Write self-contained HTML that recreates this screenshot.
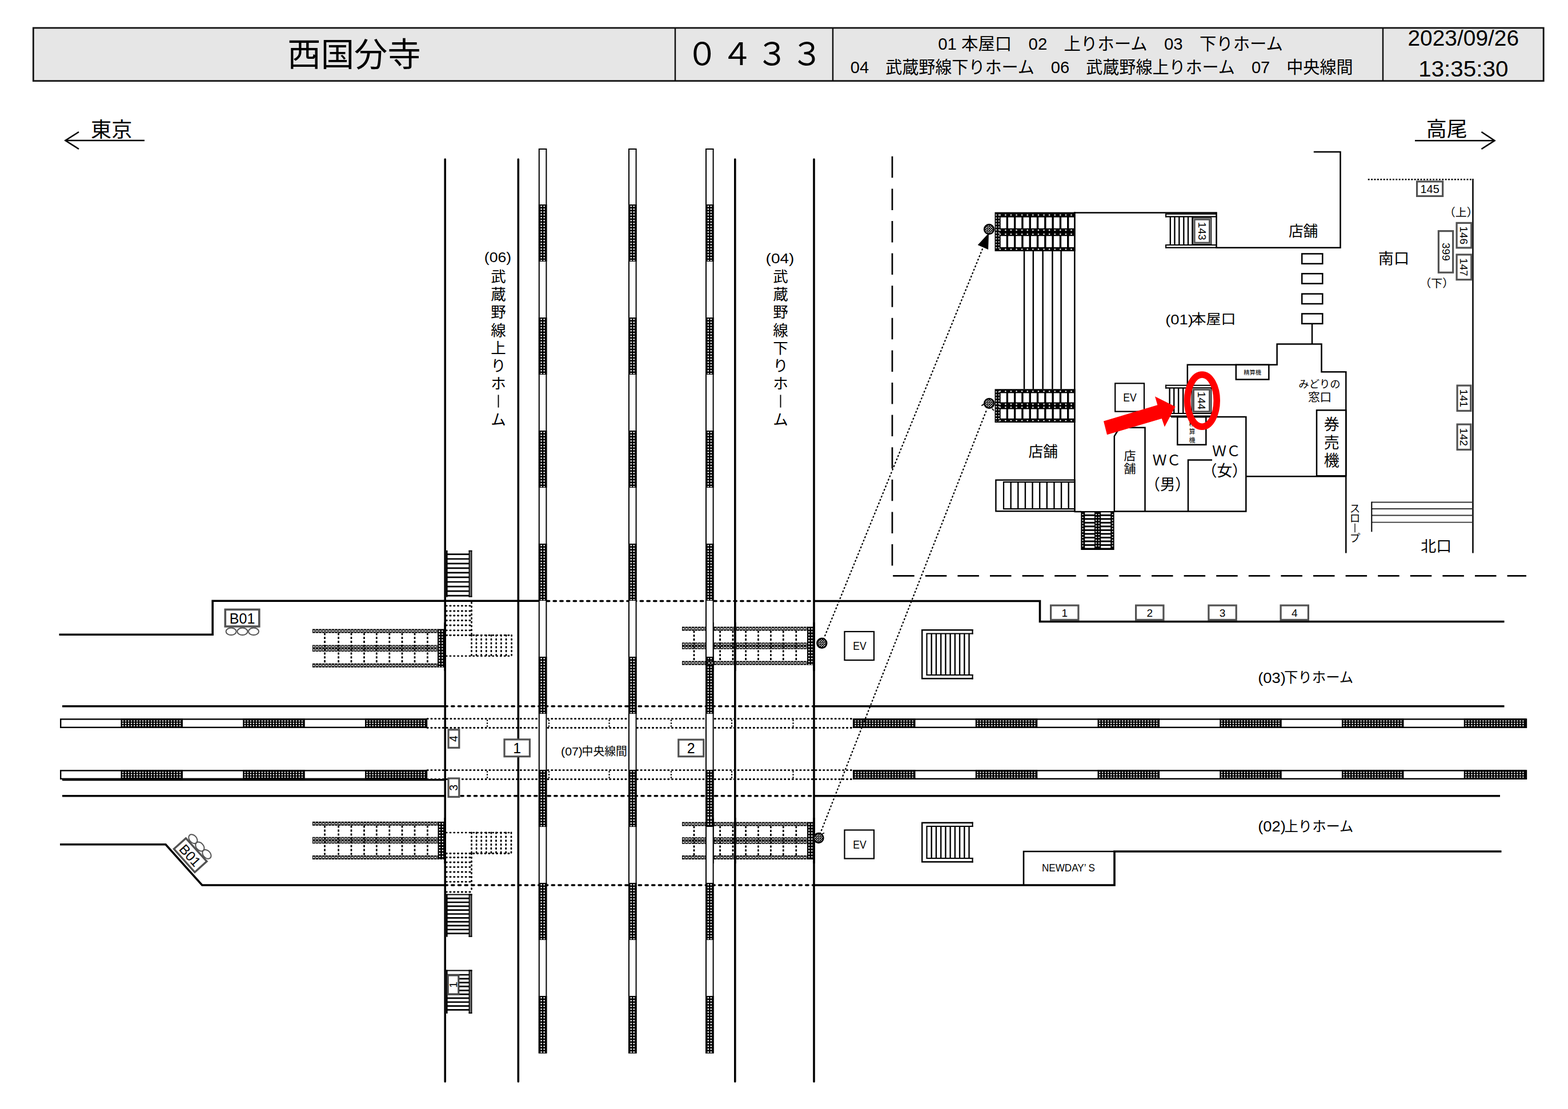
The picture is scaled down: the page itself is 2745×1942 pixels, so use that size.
<!DOCTYPE html>
<html lang="ja"><head><meta charset="utf-8"><title>西国分寺 0433</title>
<style>html,body{margin:0;padding:0;background:#fff;font-family:"Liberation Sans","Noto Sans CJK JP",sans-serif}svg{display:block}</style>
</head><body>
<svg width="2745" height="1942" viewBox="0 0 2745 1942" font-family="'Liberation Sans', 'Noto Sans CJK JP', sans-serif">
<defs>

<pattern id="xh" width="4" height="4" patternUnits="userSpaceOnUse"><rect width="4" height="4" fill="#fff"/><path d="M-1 -1 L5 5 M5 -1 L-1 5" stroke="#000" stroke-width="1.25"/></pattern>
<pattern id="dotv" width="5" height="5" patternUnits="userSpaceOnUse"><rect width="5" height="5" fill="#000"/><rect x="1.4" y="1.4" width="2.2" height="2.2" fill="#fff"/></pattern>

</defs>
<rect width="2745" height="1942" fill="#fff"/>
<rect x="58.3" y="48.9" width="2643.9" height="92.8" fill="#e6e6e6" stroke="#111" stroke-width="2.8"/>
<line x1="1182" y1="48.9" x2="1182" y2="141.7" stroke="#111" stroke-width="2.5"/>
<line x1="1458" y1="48.9" x2="1458" y2="141.7" stroke="#111" stroke-width="2.5"/>
<line x1="2421" y1="48.9" x2="2421" y2="141.7" stroke="#111" stroke-width="2.5"/>
<text x="503.25" y="115.72" font-size="58" fill="#000" textLength="233.7" lengthAdjust="spacingAndGlyphs">西国分寺</text>
<text x="1201.85" y="114.37" font-size="55" fill="#000" textLength="238.5" lengthAdjust="spacing">０４３３</text>
<text x="1642.25" y="87.43" font-size="29.5" fill="#000" textLength="603.7" lengthAdjust="spacingAndGlyphs">01 本屋口　02　上りホーム　03　下りホーム</text>
<text x="1488.75" y="127.57" font-size="29.3" fill="#000" textLength="879.8" lengthAdjust="spacingAndGlyphs">04　武蔵野線下りホーム　06　武蔵野線上りホーム　07　中央線間</text>
<text x="2464.45" y="80.21" font-size="39" fill="#000" textLength="194.7" lengthAdjust="spacingAndGlyphs">2023/09/26</text>
<text x="2483.18" y="134.41" font-size="39" fill="#000" textLength="157.3" lengthAdjust="spacingAndGlyphs">13:35:30</text>
<text x="159.14" y="239.52" font-size="36" fill="#000" textLength="72.4" lengthAdjust="spacingAndGlyphs">東京</text>
<line x1="114" y1="246" x2="253" y2="246" stroke="#000" stroke-width="2.6"/>
<path d="M138 231 L114.5 246 L138 261" fill="none" stroke="#000" stroke-width="2.6" stroke-linejoin="miter"/>
<text x="2496.79" y="239.02" font-size="36" fill="#000" textLength="72" lengthAdjust="spacingAndGlyphs">高尾</text>
<line x1="2477" y1="246.25" x2="2617" y2="246.25" stroke="#000" stroke-width="2.6"/>
<path d="M2593.5 231 L2616.5 246.25 L2593.5 261" fill="none" stroke="#000" stroke-width="2.6" stroke-linejoin="miter"/>
<path d="M103.5 1111.2 L372.2 1111.2 L372.2 1052.2 L943 1052.2" fill="none" stroke="#000" stroke-width="3.6" stroke-linejoin="miter"/>
<line x1="957.5" y1="1052.5" x2="1425" y2="1052.5" stroke="#000" stroke-width="3.6" stroke-dasharray="4.2 7.5" stroke-linecap="round"/>
<path d="M1425 1052.5 L1820.5 1052.5 L1820.5 1088.5 L2633.5 1088.5" fill="none" stroke="#000" stroke-width="3.6" stroke-linejoin="miter"/>
<line x1="109" y1="1236.8" x2="779" y2="1236.8" stroke="#000" stroke-width="3.6"/>
<line x1="779" y1="1236.8" x2="1425" y2="1236.8" stroke="#000" stroke-width="3.6" stroke-dasharray="4.2 7.5" stroke-linecap="round"/>
<line x1="1425" y1="1236.8" x2="2633.5" y2="1236.8" stroke="#000" stroke-width="3.6"/>
<line x1="109" y1="1365.6" x2="779" y2="1365.6" stroke="#000" stroke-width="3.2"/>
<line x1="109" y1="1393.7" x2="779" y2="1393.7" stroke="#000" stroke-width="3.6"/>
<line x1="807" y1="1393.7" x2="1425" y2="1393.7" stroke="#000" stroke-width="3.6" stroke-dasharray="4.2 7.5" stroke-linecap="round"/>
<line x1="1425" y1="1393.7" x2="2626" y2="1393.7" stroke="#000" stroke-width="3.6"/>
<path d="M105 1478.8 L290 1478.8 L353.8 1550 L779 1550" fill="none" stroke="#000" stroke-width="3.6" stroke-linejoin="miter"/>
<line x1="779" y1="1550" x2="1425" y2="1550" stroke="#000" stroke-width="3.6" stroke-dasharray="4.2 7.5" stroke-linecap="round"/>
<path d="M1425 1550 L1951 1550 L1951 1491 L2628.5 1491" fill="none" stroke="#000" stroke-width="3.6" stroke-linejoin="miter"/>
<path d="M1792 1550 L1792 1491 L1951 1491" fill="none" stroke="#000" stroke-width="2.6" stroke-linejoin="miter"/>
<rect x="106.2" y="1259.4" width="640.8" height="14.4" fill="#fff" stroke="#000" stroke-width="2.4"/>
<rect x="1494.2" y="1259.4" width="1177.8" height="14.4" fill="#fff" stroke="#000" stroke-width="2.4"/>
<rect x="211.5" y="1258.2" width="108.5" height="16.8" fill="#000"/>
<line x1="214" y1="1262.5" x2="319" y2="1262.5" stroke="#fff" stroke-width="2.1" stroke-dasharray="2.3 2.7"/>
<line x1="214" y1="1266.6" x2="319" y2="1266.6" stroke="#fff" stroke-width="2.1" stroke-dasharray="2.3 2.7"/>
<line x1="214" y1="1270.7" x2="319" y2="1270.7" stroke="#fff" stroke-width="2.1" stroke-dasharray="2.3 2.7"/>
<rect x="425.25" y="1258.2" width="108.5" height="16.8" fill="#000"/>
<line x1="427.75" y1="1262.5" x2="532.75" y2="1262.5" stroke="#fff" stroke-width="2.1" stroke-dasharray="2.3 2.7"/>
<line x1="427.75" y1="1266.6" x2="532.75" y2="1266.6" stroke="#fff" stroke-width="2.1" stroke-dasharray="2.3 2.7"/>
<line x1="427.75" y1="1270.7" x2="532.75" y2="1270.7" stroke="#fff" stroke-width="2.1" stroke-dasharray="2.3 2.7"/>
<rect x="639" y="1258.2" width="108.5" height="16.8" fill="#000"/>
<line x1="641.5" y1="1262.5" x2="746.5" y2="1262.5" stroke="#fff" stroke-width="2.1" stroke-dasharray="2.3 2.7"/>
<line x1="641.5" y1="1266.6" x2="746.5" y2="1266.6" stroke="#fff" stroke-width="2.1" stroke-dasharray="2.3 2.7"/>
<line x1="641.5" y1="1270.7" x2="746.5" y2="1270.7" stroke="#fff" stroke-width="2.1" stroke-dasharray="2.3 2.7"/>
<rect x="1494" y="1258.2" width="108.5" height="16.8" fill="#000"/>
<line x1="1496.5" y1="1262.5" x2="1601.5" y2="1262.5" stroke="#fff" stroke-width="2.1" stroke-dasharray="2.3 2.7"/>
<line x1="1496.5" y1="1266.6" x2="1601.5" y2="1266.6" stroke="#fff" stroke-width="2.1" stroke-dasharray="2.3 2.7"/>
<line x1="1496.5" y1="1270.7" x2="1601.5" y2="1270.7" stroke="#fff" stroke-width="2.1" stroke-dasharray="2.3 2.7"/>
<rect x="1707.75" y="1258.2" width="108.5" height="16.8" fill="#000"/>
<line x1="1710.25" y1="1262.5" x2="1815.25" y2="1262.5" stroke="#fff" stroke-width="2.1" stroke-dasharray="2.3 2.7"/>
<line x1="1710.25" y1="1266.6" x2="1815.25" y2="1266.6" stroke="#fff" stroke-width="2.1" stroke-dasharray="2.3 2.7"/>
<line x1="1710.25" y1="1270.7" x2="1815.25" y2="1270.7" stroke="#fff" stroke-width="2.1" stroke-dasharray="2.3 2.7"/>
<rect x="1921.5" y="1258.2" width="108.5" height="16.8" fill="#000"/>
<line x1="1924" y1="1262.5" x2="2029" y2="1262.5" stroke="#fff" stroke-width="2.1" stroke-dasharray="2.3 2.7"/>
<line x1="1924" y1="1266.6" x2="2029" y2="1266.6" stroke="#fff" stroke-width="2.1" stroke-dasharray="2.3 2.7"/>
<line x1="1924" y1="1270.7" x2="2029" y2="1270.7" stroke="#fff" stroke-width="2.1" stroke-dasharray="2.3 2.7"/>
<rect x="2135.25" y="1258.2" width="108.5" height="16.8" fill="#000"/>
<line x1="2137.75" y1="1262.5" x2="2242.75" y2="1262.5" stroke="#fff" stroke-width="2.1" stroke-dasharray="2.3 2.7"/>
<line x1="2137.75" y1="1266.6" x2="2242.75" y2="1266.6" stroke="#fff" stroke-width="2.1" stroke-dasharray="2.3 2.7"/>
<line x1="2137.75" y1="1270.7" x2="2242.75" y2="1270.7" stroke="#fff" stroke-width="2.1" stroke-dasharray="2.3 2.7"/>
<rect x="2349" y="1258.2" width="108.5" height="16.8" fill="#000"/>
<line x1="2351.5" y1="1262.5" x2="2456.5" y2="1262.5" stroke="#fff" stroke-width="2.1" stroke-dasharray="2.3 2.7"/>
<line x1="2351.5" y1="1266.6" x2="2456.5" y2="1266.6" stroke="#fff" stroke-width="2.1" stroke-dasharray="2.3 2.7"/>
<line x1="2351.5" y1="1270.7" x2="2456.5" y2="1270.7" stroke="#fff" stroke-width="2.1" stroke-dasharray="2.3 2.7"/>
<rect x="2562.75" y="1258.2" width="108.5" height="16.8" fill="#000"/>
<line x1="2565.25" y1="1262.5" x2="2670.25" y2="1262.5" stroke="#fff" stroke-width="2.1" stroke-dasharray="2.3 2.7"/>
<line x1="2565.25" y1="1266.6" x2="2670.25" y2="1266.6" stroke="#fff" stroke-width="2.1" stroke-dasharray="2.3 2.7"/>
<line x1="2565.25" y1="1270.7" x2="2670.25" y2="1270.7" stroke="#fff" stroke-width="2.1" stroke-dasharray="2.3 2.7"/>
<line x1="748" y1="1258.7" x2="1493" y2="1258.7" stroke="#000" stroke-width="2.8" stroke-dasharray="1.3 5.5" stroke-linecap="round"/>
<line x1="748" y1="1274.5" x2="1493" y2="1274.5" stroke="#000" stroke-width="2.8" stroke-dasharray="1.3 5.5" stroke-linecap="round"/>
<line x1="853" y1="1260.2" x2="853" y2="1274" stroke="#000" stroke-width="2.2" stroke-dasharray="2.5 2.5"/>
<line x1="961" y1="1260.2" x2="961" y2="1274" stroke="#000" stroke-width="2.2" stroke-dasharray="2.5 2.5"/>
<line x1="1066.6" y1="1260.2" x2="1066.6" y2="1274" stroke="#000" stroke-width="2.2" stroke-dasharray="2.5 2.5"/>
<line x1="1175" y1="1260.2" x2="1175" y2="1274" stroke="#000" stroke-width="2.2" stroke-dasharray="2.5 2.5"/>
<line x1="1281" y1="1260.2" x2="1281" y2="1274" stroke="#000" stroke-width="2.2" stroke-dasharray="2.5 2.5"/>
<line x1="1388.5" y1="1260.2" x2="1388.5" y2="1274" stroke="#000" stroke-width="2.2" stroke-dasharray="2.5 2.5"/>
<rect x="106.2" y="1349.4" width="640.8" height="14.4" fill="#fff" stroke="#000" stroke-width="2.4"/>
<rect x="1494.2" y="1349.4" width="1177.8" height="14.4" fill="#fff" stroke="#000" stroke-width="2.4"/>
<rect x="211.5" y="1348.2" width="108.5" height="16.8" fill="#000"/>
<line x1="214" y1="1352.5" x2="319" y2="1352.5" stroke="#fff" stroke-width="2.1" stroke-dasharray="2.3 2.7"/>
<line x1="214" y1="1356.6" x2="319" y2="1356.6" stroke="#fff" stroke-width="2.1" stroke-dasharray="2.3 2.7"/>
<line x1="214" y1="1360.7" x2="319" y2="1360.7" stroke="#fff" stroke-width="2.1" stroke-dasharray="2.3 2.7"/>
<rect x="425.25" y="1348.2" width="108.5" height="16.8" fill="#000"/>
<line x1="427.75" y1="1352.5" x2="532.75" y2="1352.5" stroke="#fff" stroke-width="2.1" stroke-dasharray="2.3 2.7"/>
<line x1="427.75" y1="1356.6" x2="532.75" y2="1356.6" stroke="#fff" stroke-width="2.1" stroke-dasharray="2.3 2.7"/>
<line x1="427.75" y1="1360.7" x2="532.75" y2="1360.7" stroke="#fff" stroke-width="2.1" stroke-dasharray="2.3 2.7"/>
<rect x="639" y="1348.2" width="108.5" height="16.8" fill="#000"/>
<line x1="641.5" y1="1352.5" x2="746.5" y2="1352.5" stroke="#fff" stroke-width="2.1" stroke-dasharray="2.3 2.7"/>
<line x1="641.5" y1="1356.6" x2="746.5" y2="1356.6" stroke="#fff" stroke-width="2.1" stroke-dasharray="2.3 2.7"/>
<line x1="641.5" y1="1360.7" x2="746.5" y2="1360.7" stroke="#fff" stroke-width="2.1" stroke-dasharray="2.3 2.7"/>
<rect x="1494" y="1348.2" width="108.5" height="16.8" fill="#000"/>
<line x1="1496.5" y1="1352.5" x2="1601.5" y2="1352.5" stroke="#fff" stroke-width="2.1" stroke-dasharray="2.3 2.7"/>
<line x1="1496.5" y1="1356.6" x2="1601.5" y2="1356.6" stroke="#fff" stroke-width="2.1" stroke-dasharray="2.3 2.7"/>
<line x1="1496.5" y1="1360.7" x2="1601.5" y2="1360.7" stroke="#fff" stroke-width="2.1" stroke-dasharray="2.3 2.7"/>
<rect x="1707.75" y="1348.2" width="108.5" height="16.8" fill="#000"/>
<line x1="1710.25" y1="1352.5" x2="1815.25" y2="1352.5" stroke="#fff" stroke-width="2.1" stroke-dasharray="2.3 2.7"/>
<line x1="1710.25" y1="1356.6" x2="1815.25" y2="1356.6" stroke="#fff" stroke-width="2.1" stroke-dasharray="2.3 2.7"/>
<line x1="1710.25" y1="1360.7" x2="1815.25" y2="1360.7" stroke="#fff" stroke-width="2.1" stroke-dasharray="2.3 2.7"/>
<rect x="1921.5" y="1348.2" width="108.5" height="16.8" fill="#000"/>
<line x1="1924" y1="1352.5" x2="2029" y2="1352.5" stroke="#fff" stroke-width="2.1" stroke-dasharray="2.3 2.7"/>
<line x1="1924" y1="1356.6" x2="2029" y2="1356.6" stroke="#fff" stroke-width="2.1" stroke-dasharray="2.3 2.7"/>
<line x1="1924" y1="1360.7" x2="2029" y2="1360.7" stroke="#fff" stroke-width="2.1" stroke-dasharray="2.3 2.7"/>
<rect x="2135.25" y="1348.2" width="108.5" height="16.8" fill="#000"/>
<line x1="2137.75" y1="1352.5" x2="2242.75" y2="1352.5" stroke="#fff" stroke-width="2.1" stroke-dasharray="2.3 2.7"/>
<line x1="2137.75" y1="1356.6" x2="2242.75" y2="1356.6" stroke="#fff" stroke-width="2.1" stroke-dasharray="2.3 2.7"/>
<line x1="2137.75" y1="1360.7" x2="2242.75" y2="1360.7" stroke="#fff" stroke-width="2.1" stroke-dasharray="2.3 2.7"/>
<rect x="2349" y="1348.2" width="108.5" height="16.8" fill="#000"/>
<line x1="2351.5" y1="1352.5" x2="2456.5" y2="1352.5" stroke="#fff" stroke-width="2.1" stroke-dasharray="2.3 2.7"/>
<line x1="2351.5" y1="1356.6" x2="2456.5" y2="1356.6" stroke="#fff" stroke-width="2.1" stroke-dasharray="2.3 2.7"/>
<line x1="2351.5" y1="1360.7" x2="2456.5" y2="1360.7" stroke="#fff" stroke-width="2.1" stroke-dasharray="2.3 2.7"/>
<rect x="2562.75" y="1348.2" width="108.5" height="16.8" fill="#000"/>
<line x1="2565.25" y1="1352.5" x2="2670.25" y2="1352.5" stroke="#fff" stroke-width="2.1" stroke-dasharray="2.3 2.7"/>
<line x1="2565.25" y1="1356.6" x2="2670.25" y2="1356.6" stroke="#fff" stroke-width="2.1" stroke-dasharray="2.3 2.7"/>
<line x1="2565.25" y1="1360.7" x2="2670.25" y2="1360.7" stroke="#fff" stroke-width="2.1" stroke-dasharray="2.3 2.7"/>
<line x1="748" y1="1348.7" x2="1493" y2="1348.7" stroke="#000" stroke-width="2.8" stroke-dasharray="1.3 5.5" stroke-linecap="round"/>
<line x1="748" y1="1364.5" x2="1493" y2="1364.5" stroke="#000" stroke-width="2.8" stroke-dasharray="1.3 5.5" stroke-linecap="round"/>
<line x1="853" y1="1350.2" x2="853" y2="1364" stroke="#000" stroke-width="2.2" stroke-dasharray="2.5 2.5"/>
<line x1="961" y1="1350.2" x2="961" y2="1364" stroke="#000" stroke-width="2.2" stroke-dasharray="2.5 2.5"/>
<line x1="1066.6" y1="1350.2" x2="1066.6" y2="1364" stroke="#000" stroke-width="2.2" stroke-dasharray="2.5 2.5"/>
<line x1="1175" y1="1350.2" x2="1175" y2="1364" stroke="#000" stroke-width="2.2" stroke-dasharray="2.5 2.5"/>
<line x1="1281" y1="1350.2" x2="1281" y2="1364" stroke="#000" stroke-width="2.2" stroke-dasharray="2.5 2.5"/>
<line x1="1388.5" y1="1350.2" x2="1388.5" y2="1364" stroke="#000" stroke-width="2.2" stroke-dasharray="2.5 2.5"/>
<line x1="779.2" y1="279" x2="779.2" y2="1894" stroke="#000" stroke-width="3.6" stroke-linecap="round"/>
<line x1="907.3" y1="279" x2="907.3" y2="1894" stroke="#000" stroke-width="3.6" stroke-linecap="round"/>
<line x1="1286.8" y1="279" x2="1286.8" y2="1894" stroke="#000" stroke-width="3.6" stroke-linecap="round"/>
<line x1="1425" y1="279" x2="1425" y2="1894" stroke="#000" stroke-width="3.6" stroke-linecap="round"/>
<rect x="943.8" y="261" width="12.6" height="1582.5" fill="#fff" stroke="#000" stroke-width="2"/>
<rect x="942.8" y="358" width="14.6" height="100" fill="#000"/>
<line x1="947.6" y1="360" x2="947.6" y2="457" stroke="#fff" stroke-width="2.2" stroke-dasharray="2.4 2.6"/>
<line x1="952.6" y1="360" x2="952.6" y2="457" stroke="#fff" stroke-width="2.2" stroke-dasharray="2.4 2.6"/>
<rect x="942.8" y="556" width="14.6" height="100" fill="#000"/>
<line x1="947.6" y1="558" x2="947.6" y2="655" stroke="#fff" stroke-width="2.2" stroke-dasharray="2.4 2.6"/>
<line x1="952.6" y1="558" x2="952.6" y2="655" stroke="#fff" stroke-width="2.2" stroke-dasharray="2.4 2.6"/>
<rect x="942.8" y="754" width="14.6" height="100" fill="#000"/>
<line x1="947.6" y1="756" x2="947.6" y2="853" stroke="#fff" stroke-width="2.2" stroke-dasharray="2.4 2.6"/>
<line x1="952.6" y1="756" x2="952.6" y2="853" stroke="#fff" stroke-width="2.2" stroke-dasharray="2.4 2.6"/>
<rect x="942.8" y="952" width="14.6" height="100" fill="#000"/>
<line x1="947.6" y1="954" x2="947.6" y2="1051" stroke="#fff" stroke-width="2.2" stroke-dasharray="2.4 2.6"/>
<line x1="952.6" y1="954" x2="952.6" y2="1051" stroke="#fff" stroke-width="2.2" stroke-dasharray="2.4 2.6"/>
<rect x="942.8" y="1150" width="14.6" height="100" fill="#000"/>
<line x1="947.6" y1="1152" x2="947.6" y2="1249" stroke="#fff" stroke-width="2.2" stroke-dasharray="2.4 2.6"/>
<line x1="952.6" y1="1152" x2="952.6" y2="1249" stroke="#fff" stroke-width="2.2" stroke-dasharray="2.4 2.6"/>
<rect x="942.8" y="1348" width="14.6" height="100" fill="#000"/>
<line x1="947.6" y1="1350" x2="947.6" y2="1447" stroke="#fff" stroke-width="2.2" stroke-dasharray="2.4 2.6"/>
<line x1="952.6" y1="1350" x2="952.6" y2="1447" stroke="#fff" stroke-width="2.2" stroke-dasharray="2.4 2.6"/>
<rect x="942.8" y="1546" width="14.6" height="100" fill="#000"/>
<line x1="947.6" y1="1548" x2="947.6" y2="1645" stroke="#fff" stroke-width="2.2" stroke-dasharray="2.4 2.6"/>
<line x1="952.6" y1="1548" x2="952.6" y2="1645" stroke="#fff" stroke-width="2.2" stroke-dasharray="2.4 2.6"/>
<rect x="942.8" y="1744" width="14.6" height="100.5" fill="#000"/>
<line x1="947.6" y1="1746" x2="947.6" y2="1843.5" stroke="#fff" stroke-width="2.2" stroke-dasharray="2.4 2.6"/>
<line x1="952.6" y1="1746" x2="952.6" y2="1843.5" stroke="#fff" stroke-width="2.2" stroke-dasharray="2.4 2.6"/>
<rect x="1101" y="261" width="12.6" height="1582.5" fill="#fff" stroke="#000" stroke-width="2"/>
<rect x="1100" y="358" width="14.6" height="100" fill="#000"/>
<line x1="1104.8" y1="360" x2="1104.8" y2="457" stroke="#fff" stroke-width="2.2" stroke-dasharray="2.4 2.6"/>
<line x1="1109.8" y1="360" x2="1109.8" y2="457" stroke="#fff" stroke-width="2.2" stroke-dasharray="2.4 2.6"/>
<rect x="1100" y="556" width="14.6" height="100" fill="#000"/>
<line x1="1104.8" y1="558" x2="1104.8" y2="655" stroke="#fff" stroke-width="2.2" stroke-dasharray="2.4 2.6"/>
<line x1="1109.8" y1="558" x2="1109.8" y2="655" stroke="#fff" stroke-width="2.2" stroke-dasharray="2.4 2.6"/>
<rect x="1100" y="754" width="14.6" height="100" fill="#000"/>
<line x1="1104.8" y1="756" x2="1104.8" y2="853" stroke="#fff" stroke-width="2.2" stroke-dasharray="2.4 2.6"/>
<line x1="1109.8" y1="756" x2="1109.8" y2="853" stroke="#fff" stroke-width="2.2" stroke-dasharray="2.4 2.6"/>
<rect x="1100" y="952" width="14.6" height="100" fill="#000"/>
<line x1="1104.8" y1="954" x2="1104.8" y2="1051" stroke="#fff" stroke-width="2.2" stroke-dasharray="2.4 2.6"/>
<line x1="1109.8" y1="954" x2="1109.8" y2="1051" stroke="#fff" stroke-width="2.2" stroke-dasharray="2.4 2.6"/>
<rect x="1100" y="1150" width="14.6" height="100" fill="#000"/>
<line x1="1104.8" y1="1152" x2="1104.8" y2="1249" stroke="#fff" stroke-width="2.2" stroke-dasharray="2.4 2.6"/>
<line x1="1109.8" y1="1152" x2="1109.8" y2="1249" stroke="#fff" stroke-width="2.2" stroke-dasharray="2.4 2.6"/>
<rect x="1100" y="1348" width="14.6" height="100" fill="#000"/>
<line x1="1104.8" y1="1350" x2="1104.8" y2="1447" stroke="#fff" stroke-width="2.2" stroke-dasharray="2.4 2.6"/>
<line x1="1109.8" y1="1350" x2="1109.8" y2="1447" stroke="#fff" stroke-width="2.2" stroke-dasharray="2.4 2.6"/>
<rect x="1100" y="1546" width="14.6" height="100" fill="#000"/>
<line x1="1104.8" y1="1548" x2="1104.8" y2="1645" stroke="#fff" stroke-width="2.2" stroke-dasharray="2.4 2.6"/>
<line x1="1109.8" y1="1548" x2="1109.8" y2="1645" stroke="#fff" stroke-width="2.2" stroke-dasharray="2.4 2.6"/>
<rect x="1100" y="1744" width="14.6" height="100.5" fill="#000"/>
<line x1="1104.8" y1="1746" x2="1104.8" y2="1843.5" stroke="#fff" stroke-width="2.2" stroke-dasharray="2.4 2.6"/>
<line x1="1109.8" y1="1746" x2="1109.8" y2="1843.5" stroke="#fff" stroke-width="2.2" stroke-dasharray="2.4 2.6"/>
<rect x="1236" y="261" width="12.6" height="1582.5" fill="#fff" stroke="#000" stroke-width="2"/>
<rect x="1235" y="358" width="14.6" height="100" fill="#000"/>
<line x1="1239.8" y1="360" x2="1239.8" y2="457" stroke="#fff" stroke-width="2.2" stroke-dasharray="2.4 2.6"/>
<line x1="1244.8" y1="360" x2="1244.8" y2="457" stroke="#fff" stroke-width="2.2" stroke-dasharray="2.4 2.6"/>
<rect x="1235" y="556" width="14.6" height="100" fill="#000"/>
<line x1="1239.8" y1="558" x2="1239.8" y2="655" stroke="#fff" stroke-width="2.2" stroke-dasharray="2.4 2.6"/>
<line x1="1244.8" y1="558" x2="1244.8" y2="655" stroke="#fff" stroke-width="2.2" stroke-dasharray="2.4 2.6"/>
<rect x="1235" y="754" width="14.6" height="100" fill="#000"/>
<line x1="1239.8" y1="756" x2="1239.8" y2="853" stroke="#fff" stroke-width="2.2" stroke-dasharray="2.4 2.6"/>
<line x1="1244.8" y1="756" x2="1244.8" y2="853" stroke="#fff" stroke-width="2.2" stroke-dasharray="2.4 2.6"/>
<rect x="1235" y="952" width="14.6" height="100" fill="#000"/>
<line x1="1239.8" y1="954" x2="1239.8" y2="1051" stroke="#fff" stroke-width="2.2" stroke-dasharray="2.4 2.6"/>
<line x1="1244.8" y1="954" x2="1244.8" y2="1051" stroke="#fff" stroke-width="2.2" stroke-dasharray="2.4 2.6"/>
<rect x="1235" y="1150" width="14.6" height="100" fill="#000"/>
<line x1="1239.8" y1="1152" x2="1239.8" y2="1249" stroke="#fff" stroke-width="2.2" stroke-dasharray="2.4 2.6"/>
<line x1="1244.8" y1="1152" x2="1244.8" y2="1249" stroke="#fff" stroke-width="2.2" stroke-dasharray="2.4 2.6"/>
<rect x="1235" y="1348" width="14.6" height="100" fill="#000"/>
<line x1="1239.8" y1="1350" x2="1239.8" y2="1447" stroke="#fff" stroke-width="2.2" stroke-dasharray="2.4 2.6"/>
<line x1="1244.8" y1="1350" x2="1244.8" y2="1447" stroke="#fff" stroke-width="2.2" stroke-dasharray="2.4 2.6"/>
<rect x="1235" y="1546" width="14.6" height="100" fill="#000"/>
<line x1="1239.8" y1="1548" x2="1239.8" y2="1645" stroke="#fff" stroke-width="2.2" stroke-dasharray="2.4 2.6"/>
<line x1="1244.8" y1="1548" x2="1244.8" y2="1645" stroke="#fff" stroke-width="2.2" stroke-dasharray="2.4 2.6"/>
<rect x="1235" y="1744" width="14.6" height="100.5" fill="#000"/>
<line x1="1239.8" y1="1746" x2="1239.8" y2="1843.5" stroke="#fff" stroke-width="2.2" stroke-dasharray="2.4 2.6"/>
<line x1="1244.8" y1="1746" x2="1244.8" y2="1843.5" stroke="#fff" stroke-width="2.2" stroke-dasharray="2.4 2.6"/>
<rect x="780.6" y="963.8" width="45.8" height="81.7" fill="#fff"/>
<rect x="821.4" y="963.8" width="4.2" height="81.7" fill="#777"/>
<line x1="782" y1="963.8" x2="782" y2="1045.5" stroke="#000" stroke-width="3.2"/>
<line x1="821.4" y1="963.8" x2="821.4" y2="1045.5" stroke="#000" stroke-width="1.7"/>
<line x1="825.6" y1="963.8" x2="825.6" y2="1045.5" stroke="#000" stroke-width="1.7"/>
<line x1="820.6" y1="964.7" x2="826.4" y2="964.7" stroke="#000" stroke-width="1.8"/>
<line x1="820.6" y1="1044.6" x2="826.4" y2="1044.6" stroke="#000" stroke-width="1.8"/>
<line x1="782.6" y1="970.7" x2="821.4" y2="970.7" stroke="#000" stroke-width="2.7"/>
<line x1="782.6" y1="978.75" x2="821.4" y2="978.75" stroke="#000" stroke-width="2.7"/>
<line x1="782.6" y1="986.8" x2="821.4" y2="986.8" stroke="#000" stroke-width="2.7"/>
<line x1="782.6" y1="994.85" x2="821.4" y2="994.85" stroke="#000" stroke-width="2.7"/>
<line x1="782.6" y1="1002.9" x2="821.4" y2="1002.9" stroke="#000" stroke-width="2.7"/>
<line x1="782.6" y1="1010.95" x2="821.4" y2="1010.95" stroke="#000" stroke-width="2.7"/>
<line x1="782.6" y1="1019" x2="821.4" y2="1019" stroke="#000" stroke-width="2.7"/>
<line x1="782.6" y1="1027.05" x2="821.4" y2="1027.05" stroke="#000" stroke-width="2.7"/>
<line x1="782.6" y1="1035.1" x2="821.4" y2="1035.1" stroke="#000" stroke-width="2.7"/>
<line x1="782.6" y1="1043.15" x2="821.4" y2="1043.15" stroke="#000" stroke-width="2.7"/>
<rect x="780.6" y="1565.6" width="45.8" height="75" fill="#fff"/>
<rect x="821.4" y="1565.6" width="4.2" height="75" fill="#777"/>
<line x1="782" y1="1565.6" x2="782" y2="1640.6" stroke="#000" stroke-width="3.2"/>
<line x1="821.4" y1="1565.6" x2="821.4" y2="1640.6" stroke="#000" stroke-width="1.7"/>
<line x1="825.6" y1="1565.6" x2="825.6" y2="1640.6" stroke="#000" stroke-width="1.7"/>
<line x1="820.6" y1="1566.5" x2="826.4" y2="1566.5" stroke="#000" stroke-width="1.8"/>
<line x1="820.6" y1="1639.7" x2="826.4" y2="1639.7" stroke="#000" stroke-width="1.8"/>
<line x1="780.6" y1="1566.5" x2="826.4" y2="1566.5" stroke="#000" stroke-width="2"/>
<line x1="782.6" y1="1573.2" x2="821.4" y2="1573.2" stroke="#000" stroke-width="2.7"/>
<line x1="782.6" y1="1580.02" x2="821.4" y2="1580.02" stroke="#000" stroke-width="2.7"/>
<line x1="782.6" y1="1586.84" x2="821.4" y2="1586.84" stroke="#000" stroke-width="2.7"/>
<line x1="782.6" y1="1593.66" x2="821.4" y2="1593.66" stroke="#000" stroke-width="2.7"/>
<line x1="782.6" y1="1600.48" x2="821.4" y2="1600.48" stroke="#000" stroke-width="2.7"/>
<line x1="782.6" y1="1607.3" x2="821.4" y2="1607.3" stroke="#000" stroke-width="2.7"/>
<line x1="782.6" y1="1614.12" x2="821.4" y2="1614.12" stroke="#000" stroke-width="2.7"/>
<line x1="782.6" y1="1620.94" x2="821.4" y2="1620.94" stroke="#000" stroke-width="2.7"/>
<line x1="782.6" y1="1627.76" x2="821.4" y2="1627.76" stroke="#000" stroke-width="2.7"/>
<line x1="782.6" y1="1634.58" x2="821.4" y2="1634.58" stroke="#000" stroke-width="2.7"/>
<rect x="780.6" y="1698.6" width="45.8" height="76.2" fill="#fff"/>
<rect x="821.4" y="1698.6" width="4.2" height="76.2" fill="#777"/>
<line x1="782" y1="1698.6" x2="782" y2="1774.8" stroke="#000" stroke-width="3.2"/>
<line x1="821.4" y1="1698.6" x2="821.4" y2="1774.8" stroke="#000" stroke-width="1.7"/>
<line x1="825.6" y1="1698.6" x2="825.6" y2="1774.8" stroke="#000" stroke-width="1.7"/>
<line x1="820.6" y1="1699.5" x2="826.4" y2="1699.5" stroke="#000" stroke-width="1.8"/>
<line x1="820.6" y1="1773.9" x2="826.4" y2="1773.9" stroke="#000" stroke-width="1.8"/>
<line x1="780.6" y1="1699.5" x2="826.4" y2="1699.5" stroke="#000" stroke-width="2"/>
<line x1="782.6" y1="1707" x2="821.4" y2="1707" stroke="#000" stroke-width="2.7"/>
<line x1="782.6" y1="1713.82" x2="821.4" y2="1713.82" stroke="#000" stroke-width="2.7"/>
<line x1="782.6" y1="1720.64" x2="821.4" y2="1720.64" stroke="#000" stroke-width="2.7"/>
<line x1="782.6" y1="1727.46" x2="821.4" y2="1727.46" stroke="#000" stroke-width="2.7"/>
<line x1="782.6" y1="1734.28" x2="821.4" y2="1734.28" stroke="#000" stroke-width="2.7"/>
<line x1="782.6" y1="1741.1" x2="821.4" y2="1741.1" stroke="#000" stroke-width="2.7"/>
<line x1="782.6" y1="1747.92" x2="821.4" y2="1747.92" stroke="#000" stroke-width="2.7"/>
<line x1="782.6" y1="1754.74" x2="821.4" y2="1754.74" stroke="#000" stroke-width="2.7"/>
<line x1="782.6" y1="1761.56" x2="821.4" y2="1761.56" stroke="#000" stroke-width="2.7"/>
<line x1="782.6" y1="1768.38" x2="821.4" y2="1768.38" stroke="#000" stroke-width="2.7"/>
<line x1="781" y1="1060.8" x2="825.5" y2="1060.8" stroke="#000" stroke-width="2.8" stroke-dasharray="1.3 5.5" stroke-linecap="round"/>
<line x1="781" y1="1070" x2="825.5" y2="1070" stroke="#000" stroke-width="2.8" stroke-dasharray="1.3 5.5" stroke-linecap="round"/>
<line x1="781" y1="1078" x2="825.5" y2="1078" stroke="#000" stroke-width="2.8" stroke-dasharray="1.3 5.5" stroke-linecap="round"/>
<line x1="781" y1="1086.5" x2="825.5" y2="1086.5" stroke="#000" stroke-width="2.8" stroke-dasharray="1.3 5.5" stroke-linecap="round"/>
<line x1="781" y1="1095" x2="825.5" y2="1095" stroke="#000" stroke-width="2.8" stroke-dasharray="1.3 5.5" stroke-linecap="round"/>
<line x1="781" y1="1103.8" x2="825.5" y2="1103.8" stroke="#000" stroke-width="2.8" stroke-dasharray="1.3 5.5" stroke-linecap="round"/>
<line x1="781" y1="1112.3" x2="825.5" y2="1112.3" stroke="#000" stroke-width="2.8" stroke-dasharray="1.3 5.5" stroke-linecap="round"/>
<line x1="825.5" y1="1055" x2="825.5" y2="1112" stroke="#000" stroke-width="2.8" stroke-dasharray="1.3 5.5" stroke-linecap="round"/>
<line x1="825.5" y1="1112.3" x2="825.5" y2="1148.8" stroke="#000" stroke-width="2.8" stroke-dasharray="1.3 5.5" stroke-linecap="round"/>
<line x1="833.9" y1="1112.3" x2="833.9" y2="1148.8" stroke="#000" stroke-width="2.8" stroke-dasharray="1.3 5.5" stroke-linecap="round"/>
<line x1="842.6" y1="1112.3" x2="842.6" y2="1148.8" stroke="#000" stroke-width="2.8" stroke-dasharray="1.3 5.5" stroke-linecap="round"/>
<line x1="851.3" y1="1112.3" x2="851.3" y2="1148.8" stroke="#000" stroke-width="2.8" stroke-dasharray="1.3 5.5" stroke-linecap="round"/>
<line x1="860" y1="1112.3" x2="860" y2="1148.8" stroke="#000" stroke-width="2.8" stroke-dasharray="1.3 5.5" stroke-linecap="round"/>
<line x1="868.7" y1="1112.3" x2="868.7" y2="1148.8" stroke="#000" stroke-width="2.8" stroke-dasharray="1.3 5.5" stroke-linecap="round"/>
<line x1="877.4" y1="1112.3" x2="877.4" y2="1148.8" stroke="#000" stroke-width="2.8" stroke-dasharray="1.3 5.5" stroke-linecap="round"/>
<line x1="886.1" y1="1112.3" x2="886.1" y2="1148.8" stroke="#000" stroke-width="2.8" stroke-dasharray="1.3 5.5" stroke-linecap="round"/>
<line x1="895.6" y1="1112.3" x2="895.6" y2="1148.8" stroke="#000" stroke-width="2.8" stroke-dasharray="1.3 5.5" stroke-linecap="round"/>
<line x1="781" y1="1112.3" x2="895.6" y2="1112.3" stroke="#000" stroke-width="2.8" stroke-dasharray="1.3 5.5" stroke-linecap="round"/>
<line x1="781" y1="1148.8" x2="895.6" y2="1148.8" stroke="#000" stroke-width="2.6" stroke-dasharray="1.3 5.5" stroke-linecap="round"/>
<line x1="825.5" y1="1458" x2="825.5" y2="1494.5" stroke="#000" stroke-width="2.8" stroke-dasharray="1.3 5.5" stroke-linecap="round"/>
<line x1="834.1" y1="1458" x2="834.1" y2="1494.5" stroke="#000" stroke-width="2.8" stroke-dasharray="1.3 5.5" stroke-linecap="round"/>
<line x1="842.7" y1="1458" x2="842.7" y2="1494.5" stroke="#000" stroke-width="2.8" stroke-dasharray="1.3 5.5" stroke-linecap="round"/>
<line x1="851.3" y1="1458" x2="851.3" y2="1494.5" stroke="#000" stroke-width="2.8" stroke-dasharray="1.3 5.5" stroke-linecap="round"/>
<line x1="859.9" y1="1458" x2="859.9" y2="1494.5" stroke="#000" stroke-width="2.8" stroke-dasharray="1.3 5.5" stroke-linecap="round"/>
<line x1="868.5" y1="1458" x2="868.5" y2="1494.5" stroke="#000" stroke-width="2.8" stroke-dasharray="1.3 5.5" stroke-linecap="round"/>
<line x1="877.1" y1="1458" x2="877.1" y2="1494.5" stroke="#000" stroke-width="2.8" stroke-dasharray="1.3 5.5" stroke-linecap="round"/>
<line x1="885.7" y1="1458" x2="885.7" y2="1494.5" stroke="#000" stroke-width="2.8" stroke-dasharray="1.3 5.5" stroke-linecap="round"/>
<line x1="895" y1="1458" x2="895" y2="1494.5" stroke="#000" stroke-width="2.8" stroke-dasharray="1.3 5.5" stroke-linecap="round"/>
<line x1="781" y1="1458" x2="895" y2="1458" stroke="#000" stroke-width="2.6" stroke-dasharray="1.3 5.5" stroke-linecap="round"/>
<line x1="781" y1="1494.5" x2="895" y2="1494.5" stroke="#000" stroke-width="2.8" stroke-dasharray="1.3 5.5" stroke-linecap="round"/>
<line x1="781" y1="1501.5" x2="825.5" y2="1501.5" stroke="#000" stroke-width="2.8" stroke-dasharray="1.3 5.5" stroke-linecap="round"/>
<line x1="781" y1="1510" x2="825.5" y2="1510" stroke="#000" stroke-width="2.8" stroke-dasharray="1.3 5.5" stroke-linecap="round"/>
<line x1="781" y1="1518.3" x2="825.5" y2="1518.3" stroke="#000" stroke-width="2.8" stroke-dasharray="1.3 5.5" stroke-linecap="round"/>
<line x1="781" y1="1527" x2="825.5" y2="1527" stroke="#000" stroke-width="2.8" stroke-dasharray="1.3 5.5" stroke-linecap="round"/>
<line x1="781" y1="1535.6" x2="825.5" y2="1535.6" stroke="#000" stroke-width="2.8" stroke-dasharray="1.3 5.5" stroke-linecap="round"/>
<line x1="781" y1="1544.2" x2="825.5" y2="1544.2" stroke="#000" stroke-width="2.8" stroke-dasharray="1.3 5.5" stroke-linecap="round"/>
<line x1="781" y1="1562" x2="825.5" y2="1562" stroke="#000" stroke-width="2.8" stroke-dasharray="1.3 5.5" stroke-linecap="round"/>
<line x1="825.5" y1="1494.5" x2="825.5" y2="1562" stroke="#000" stroke-width="2.8" stroke-dasharray="1.3 5.5" stroke-linecap="round"/>
<line x1="547" y1="1105" x2="767" y2="1105" stroke="#000" stroke-width="7" stroke-dasharray="4.7 0.9"/>
<line x1="548.2" y1="1105" x2="767" y2="1105" stroke="#fff" stroke-width="2.3" stroke-dasharray="2.3 3.3"/>
<line x1="547" y1="1132.4" x2="767" y2="1132.4" stroke="#000" stroke-width="5.8" stroke-dasharray="4.7 0.9"/>
<line x1="548.2" y1="1132.4" x2="767" y2="1132.4" stroke="#fff" stroke-width="2.3" stroke-dasharray="2.3 3.3"/>
<line x1="547" y1="1138.2" x2="767" y2="1138.2" stroke="#000" stroke-width="5.8" stroke-dasharray="4.7 0.9"/>
<line x1="548.2" y1="1138.2" x2="767" y2="1138.2" stroke="#fff" stroke-width="2.3" stroke-dasharray="2.3 3.3"/>
<line x1="547" y1="1165.3" x2="767" y2="1165.3" stroke="#000" stroke-width="7" stroke-dasharray="4.7 0.9"/>
<line x1="548.2" y1="1165.3" x2="767" y2="1165.3" stroke="#fff" stroke-width="2.3" stroke-dasharray="2.3 3.3"/>
<line x1="568.5" y1="1108.5" x2="568.5" y2="1161.8" stroke="#000" stroke-width="2.7" stroke-dasharray="3.8 3"/>
<line x1="592.6" y1="1108.5" x2="592.6" y2="1161.8" stroke="#000" stroke-width="2.7" stroke-dasharray="3.8 3"/>
<line x1="615" y1="1108.5" x2="615" y2="1161.8" stroke="#000" stroke-width="2.7" stroke-dasharray="3.8 3"/>
<line x1="637.5" y1="1108.5" x2="637.5" y2="1161.8" stroke="#000" stroke-width="2.7" stroke-dasharray="3.8 3"/>
<line x1="659.3" y1="1108.5" x2="659.3" y2="1161.8" stroke="#000" stroke-width="2.7" stroke-dasharray="3.8 3"/>
<line x1="681.8" y1="1108.5" x2="681.8" y2="1161.8" stroke="#000" stroke-width="2.7" stroke-dasharray="3.8 3"/>
<line x1="704" y1="1108.5" x2="704" y2="1161.8" stroke="#000" stroke-width="2.7" stroke-dasharray="3.8 3"/>
<line x1="726" y1="1108.5" x2="726" y2="1161.8" stroke="#000" stroke-width="2.7" stroke-dasharray="3.8 3"/>
<line x1="748.4" y1="1108.5" x2="748.4" y2="1161.8" stroke="#000" stroke-width="2.7" stroke-dasharray="3.8 3"/>
<rect x="766" y="1101.5" width="12" height="67.3" fill="#000"/>
<line x1="769.3" y1="1104" x2="769.3" y2="1168.3" stroke="#fff" stroke-width="2.2" stroke-dasharray="2.4 2.8"/>
<line x1="774.3" y1="1104" x2="774.3" y2="1168.3" stroke="#fff" stroke-width="2.2" stroke-dasharray="2.4 2.8"/>
<line x1="547" y1="1442.3" x2="767.5" y2="1442.3" stroke="#000" stroke-width="7" stroke-dasharray="4.7 0.9"/>
<line x1="548.2" y1="1442.3" x2="767.5" y2="1442.3" stroke="#fff" stroke-width="2.3" stroke-dasharray="2.3 3.3"/>
<line x1="547" y1="1468.6" x2="767.5" y2="1468.6" stroke="#000" stroke-width="5.8" stroke-dasharray="4.7 0.9"/>
<line x1="548.2" y1="1468.6" x2="767.5" y2="1468.6" stroke="#fff" stroke-width="2.3" stroke-dasharray="2.3 3.3"/>
<line x1="547" y1="1474.4" x2="767.5" y2="1474.4" stroke="#000" stroke-width="5.8" stroke-dasharray="4.7 0.9"/>
<line x1="548.2" y1="1474.4" x2="767.5" y2="1474.4" stroke="#fff" stroke-width="2.3" stroke-dasharray="2.3 3.3"/>
<line x1="547" y1="1501.5" x2="767.5" y2="1501.5" stroke="#000" stroke-width="7" stroke-dasharray="4.7 0.9"/>
<line x1="548.2" y1="1501.5" x2="767.5" y2="1501.5" stroke="#fff" stroke-width="2.3" stroke-dasharray="2.3 3.3"/>
<line x1="568.5" y1="1445.8" x2="568.5" y2="1498" stroke="#000" stroke-width="2.7" stroke-dasharray="3.8 3"/>
<line x1="592.6" y1="1445.8" x2="592.6" y2="1498" stroke="#000" stroke-width="2.7" stroke-dasharray="3.8 3"/>
<line x1="615" y1="1445.8" x2="615" y2="1498" stroke="#000" stroke-width="2.7" stroke-dasharray="3.8 3"/>
<line x1="637.5" y1="1445.8" x2="637.5" y2="1498" stroke="#000" stroke-width="2.7" stroke-dasharray="3.8 3"/>
<line x1="659.3" y1="1445.8" x2="659.3" y2="1498" stroke="#000" stroke-width="2.7" stroke-dasharray="3.8 3"/>
<line x1="681.8" y1="1445.8" x2="681.8" y2="1498" stroke="#000" stroke-width="2.7" stroke-dasharray="3.8 3"/>
<line x1="704" y1="1445.8" x2="704" y2="1498" stroke="#000" stroke-width="2.7" stroke-dasharray="3.8 3"/>
<line x1="726" y1="1445.8" x2="726" y2="1498" stroke="#000" stroke-width="2.7" stroke-dasharray="3.8 3"/>
<line x1="748.4" y1="1445.8" x2="748.4" y2="1498" stroke="#000" stroke-width="2.7" stroke-dasharray="3.8 3"/>
<rect x="766.5" y="1438.8" width="12" height="66.2" fill="#000"/>
<line x1="769.8" y1="1441.3" x2="769.8" y2="1504.5" stroke="#fff" stroke-width="2.2" stroke-dasharray="2.4 2.8"/>
<line x1="774.8" y1="1441.3" x2="774.8" y2="1504.5" stroke="#fff" stroke-width="2.2" stroke-dasharray="2.4 2.8"/>
<line x1="1194" y1="1101" x2="1414" y2="1101" stroke="#000" stroke-width="7" stroke-dasharray="4.7 0.9"/>
<line x1="1195.2" y1="1101" x2="1414" y2="1101" stroke="#fff" stroke-width="2.3" stroke-dasharray="2.3 3.3"/>
<line x1="1194" y1="1128.1" x2="1414" y2="1128.1" stroke="#000" stroke-width="5.8" stroke-dasharray="4.7 0.9"/>
<line x1="1195.2" y1="1128.1" x2="1414" y2="1128.1" stroke="#fff" stroke-width="2.3" stroke-dasharray="2.3 3.3"/>
<line x1="1194" y1="1133.9" x2="1414" y2="1133.9" stroke="#000" stroke-width="5.8" stroke-dasharray="4.7 0.9"/>
<line x1="1195.2" y1="1133.9" x2="1414" y2="1133.9" stroke="#fff" stroke-width="2.3" stroke-dasharray="2.3 3.3"/>
<line x1="1194" y1="1161" x2="1414" y2="1161" stroke="#000" stroke-width="7" stroke-dasharray="4.7 0.9"/>
<line x1="1195.2" y1="1161" x2="1414" y2="1161" stroke="#fff" stroke-width="2.3" stroke-dasharray="2.3 3.3"/>
<line x1="1215" y1="1104.5" x2="1215" y2="1157.5" stroke="#000" stroke-width="2.7" stroke-dasharray="3.8 3"/>
<line x1="1238" y1="1104.5" x2="1238" y2="1157.5" stroke="#000" stroke-width="2.7" stroke-dasharray="3.8 3"/>
<line x1="1260.6" y1="1104.5" x2="1260.6" y2="1157.5" stroke="#000" stroke-width="2.7" stroke-dasharray="3.8 3"/>
<line x1="1283" y1="1104.5" x2="1283" y2="1157.5" stroke="#000" stroke-width="2.7" stroke-dasharray="3.8 3"/>
<line x1="1305.6" y1="1104.5" x2="1305.6" y2="1157.5" stroke="#000" stroke-width="2.7" stroke-dasharray="3.8 3"/>
<line x1="1327.5" y1="1104.5" x2="1327.5" y2="1157.5" stroke="#000" stroke-width="2.7" stroke-dasharray="3.8 3"/>
<line x1="1349.4" y1="1104.5" x2="1349.4" y2="1157.5" stroke="#000" stroke-width="2.7" stroke-dasharray="3.8 3"/>
<line x1="1371.3" y1="1104.5" x2="1371.3" y2="1157.5" stroke="#000" stroke-width="2.7" stroke-dasharray="3.8 3"/>
<line x1="1393.8" y1="1104.5" x2="1393.8" y2="1157.5" stroke="#000" stroke-width="2.7" stroke-dasharray="3.8 3"/>
<rect x="1413" y="1097.5" width="12" height="67" fill="#000"/>
<line x1="1416.3" y1="1100" x2="1416.3" y2="1164" stroke="#fff" stroke-width="2.2" stroke-dasharray="2.4 2.8"/>
<line x1="1421.3" y1="1100" x2="1421.3" y2="1164" stroke="#fff" stroke-width="2.2" stroke-dasharray="2.4 2.8"/>
<line x1="1194" y1="1443" x2="1414" y2="1443" stroke="#000" stroke-width="7" stroke-dasharray="4.7 0.9"/>
<line x1="1195.2" y1="1443" x2="1414" y2="1443" stroke="#fff" stroke-width="2.3" stroke-dasharray="2.3 3.3"/>
<line x1="1194" y1="1469.1" x2="1414" y2="1469.1" stroke="#000" stroke-width="5.8" stroke-dasharray="4.7 0.9"/>
<line x1="1195.2" y1="1469.1" x2="1414" y2="1469.1" stroke="#fff" stroke-width="2.3" stroke-dasharray="2.3 3.3"/>
<line x1="1194" y1="1474.9" x2="1414" y2="1474.9" stroke="#000" stroke-width="5.8" stroke-dasharray="4.7 0.9"/>
<line x1="1195.2" y1="1474.9" x2="1414" y2="1474.9" stroke="#fff" stroke-width="2.3" stroke-dasharray="2.3 3.3"/>
<line x1="1194" y1="1501.5" x2="1414" y2="1501.5" stroke="#000" stroke-width="7" stroke-dasharray="4.7 0.9"/>
<line x1="1195.2" y1="1501.5" x2="1414" y2="1501.5" stroke="#fff" stroke-width="2.3" stroke-dasharray="2.3 3.3"/>
<line x1="1215" y1="1446.5" x2="1215" y2="1498" stroke="#000" stroke-width="2.7" stroke-dasharray="3.8 3"/>
<line x1="1238" y1="1446.5" x2="1238" y2="1498" stroke="#000" stroke-width="2.7" stroke-dasharray="3.8 3"/>
<line x1="1260.6" y1="1446.5" x2="1260.6" y2="1498" stroke="#000" stroke-width="2.7" stroke-dasharray="3.8 3"/>
<line x1="1283" y1="1446.5" x2="1283" y2="1498" stroke="#000" stroke-width="2.7" stroke-dasharray="3.8 3"/>
<line x1="1305.6" y1="1446.5" x2="1305.6" y2="1498" stroke="#000" stroke-width="2.7" stroke-dasharray="3.8 3"/>
<line x1="1327.5" y1="1446.5" x2="1327.5" y2="1498" stroke="#000" stroke-width="2.7" stroke-dasharray="3.8 3"/>
<line x1="1349.4" y1="1446.5" x2="1349.4" y2="1498" stroke="#000" stroke-width="2.7" stroke-dasharray="3.8 3"/>
<line x1="1371.3" y1="1446.5" x2="1371.3" y2="1498" stroke="#000" stroke-width="2.7" stroke-dasharray="3.8 3"/>
<line x1="1393.8" y1="1446.5" x2="1393.8" y2="1498" stroke="#000" stroke-width="2.7" stroke-dasharray="3.8 3"/>
<rect x="1413" y="1439.5" width="12" height="65.5" fill="#000"/>
<line x1="1416.3" y1="1442" x2="1416.3" y2="1504.5" stroke="#fff" stroke-width="2.2" stroke-dasharray="2.4 2.8"/>
<line x1="1421.3" y1="1442" x2="1421.3" y2="1504.5" stroke="#fff" stroke-width="2.2" stroke-dasharray="2.4 2.8"/>
<line x1="1286.8" y1="1090" x2="1286.8" y2="1175" stroke="#000" stroke-width="3.6"/>
<line x1="1286.8" y1="1432" x2="1286.8" y2="1512" stroke="#000" stroke-width="3.6"/>
<line x1="1425" y1="1090" x2="1425" y2="1175" stroke="#000" stroke-width="3.6"/>
<line x1="1425" y1="1432" x2="1425" y2="1512" stroke="#000" stroke-width="3.6"/>
<rect x="1236" y="1090" width="12.6" height="60" fill="#fff"/>
<line x1="1236" y1="1090" x2="1236" y2="1175" stroke="#000" stroke-width="2"/>
<line x1="1248.6" y1="1090" x2="1248.6" y2="1175" stroke="#000" stroke-width="2"/>
<rect x="1236" y="1448" width="12.6" height="64" fill="#fff"/>
<line x1="1236" y1="1432" x2="1236" y2="1512" stroke="#000" stroke-width="2"/>
<line x1="1248.6" y1="1432" x2="1248.6" y2="1512" stroke="#000" stroke-width="2"/>
<rect x="1235" y="1432" width="14.6" height="16" fill="#000"/>
<line x1="1239.8" y1="1432" x2="1239.8" y2="1447" stroke="#fff" stroke-width="2.2" stroke-dasharray="2.4 2.6"/>
<line x1="1244.8" y1="1432" x2="1244.8" y2="1447" stroke="#fff" stroke-width="2.2" stroke-dasharray="2.4 2.6"/>
<line x1="779.2" y1="1090" x2="779.2" y2="1175" stroke="#000" stroke-width="3.6"/>
<line x1="779.2" y1="1432" x2="779.2" y2="1512" stroke="#000" stroke-width="3.6"/>
<rect x="394.3" y="1067.4" width="59.5" height="29.6" fill="#fff" stroke="#525252" stroke-width="3.6"/>
<text x="424.05" y="1082.7" font-size="25" text-anchor="middle" dominant-baseline="central">B01</text>
<ellipse cx="404.6" cy="1105.8" rx="9" ry="6.3" fill="#fff" stroke="#525252" stroke-width="2"/>
<ellipse cx="424.4" cy="1105.8" rx="9" ry="6.3" fill="#fff" stroke="#525252" stroke-width="2"/>
<ellipse cx="444" cy="1105.8" rx="9" ry="6.3" fill="#fff" stroke="#525252" stroke-width="2"/>
<g transform="rotate(48 333.2 1497.6)">
<ellipse cx="315.2" cy="1475.1" rx="9" ry="6.3" fill="#fff" stroke="#525252" stroke-width="2"/>
<ellipse cx="333.2" cy="1475.1" rx="9" ry="6.3" fill="#fff" stroke="#525252" stroke-width="2"/>
<ellipse cx="351.2" cy="1475.1" rx="9" ry="6.3" fill="#fff" stroke="#525252" stroke-width="2"/>
<rect x="305.9" y="1483.5" width="54.6" height="28.2" fill="#fff" stroke="#525252" stroke-width="3.4"/>
<text x="333.2" y="1498.1" font-size="24" text-anchor="middle" dominant-baseline="central">B01</text>
</g>
<rect x="785" y="1277.8" width="18.8" height="31.6" fill="#fff" stroke="#525252" stroke-width="3.2"/>
<text x="794.4" y="1293.6" font-size="19.5" text-anchor="middle" dominant-baseline="central" transform="rotate(-90 794.4 1293.6)">4</text>
<rect x="785" y="1363" width="18.8" height="32.4" fill="#fff" stroke="#525252" stroke-width="3.2"/>
<text x="794.4" y="1379.2" font-size="19.5" text-anchor="middle" dominant-baseline="central" transform="rotate(-90 794.4 1379.2)">3</text>
<rect x="883" y="1294.9" width="44.4" height="29.8" fill="#fff" stroke="#525252" stroke-width="3.2"/>
<text x="905.2" y="1310.3" font-size="25" text-anchor="middle" dominant-baseline="central">1</text>
<rect x="1187.8" y="1295.2" width="44" height="29.5" fill="#fff" stroke="#525252" stroke-width="3.2"/>
<text x="1209.8" y="1310.45" font-size="25" text-anchor="middle" dominant-baseline="central">2</text>
<rect x="784.2" y="1707.9" width="18.6" height="33" fill="#fff" stroke="#4a4a4a" stroke-width="3.2"/>
<text x="793.5" y="1724.4" font-size="19" text-anchor="middle" dominant-baseline="central" transform="rotate(-90 793.5 1724.4)">1</text>
<rect x="1839.6" y="1060.1" width="48.3" height="25.3" fill="#fff" stroke="#525252" stroke-width="3.2"/>
<text x="1863.75" y="1073.25" font-size="19" text-anchor="middle" dominant-baseline="central">1</text>
<rect x="1988.6" y="1060.1" width="48.3" height="25.3" fill="#fff" stroke="#525252" stroke-width="3.2"/>
<text x="2012.75" y="1073.25" font-size="19" text-anchor="middle" dominant-baseline="central">2</text>
<rect x="2115.9" y="1060.1" width="48.3" height="25.3" fill="#fff" stroke="#525252" stroke-width="3.2"/>
<text x="2140.05" y="1073.25" font-size="19" text-anchor="middle" dominant-baseline="central">3</text>
<rect x="2242.1" y="1060.1" width="48.3" height="25.3" fill="#fff" stroke="#525252" stroke-width="3.2"/>
<text x="2266.25" y="1073.25" font-size="19" text-anchor="middle" dominant-baseline="central">4</text>
<text x="982.05" y="1323.45" font-size="21" fill="#000" textLength="37.9" lengthAdjust="spacingAndGlyphs">(07)</text>
<text x="1018.6" y="1323.04" font-size="20" fill="#000" textLength="79.3" lengthAdjust="spacingAndGlyphs">中央線間</text>
<path d="M1703.5 1103.2 L1614.2 1103.2 L1614.2 1188.3 L1703.5 1188.3" fill="none" stroke="#000" stroke-width="2.4" stroke-linejoin="miter"/>
<path d="M1703.5 1109.5 L1622.5 1109.5 L1622.5 1182 L1703.5 1182" fill="none" stroke="#000" stroke-width="2.2" stroke-linejoin="miter"/>
<line x1="1702.5" y1="1102" x2="1702.5" y2="1110.6" stroke="#000" stroke-width="2.2"/>
<line x1="1702.5" y1="1180.9" x2="1702.5" y2="1189.5" stroke="#000" stroke-width="2.2"/>
<line x1="1630.72" y1="1109.5" x2="1630.72" y2="1182" stroke="#000" stroke-width="2.4"/>
<line x1="1638.94" y1="1109.5" x2="1638.94" y2="1182" stroke="#000" stroke-width="2.4"/>
<line x1="1647.17" y1="1109.5" x2="1647.17" y2="1182" stroke="#000" stroke-width="2.4"/>
<line x1="1655.39" y1="1109.5" x2="1655.39" y2="1182" stroke="#000" stroke-width="2.4"/>
<line x1="1663.61" y1="1109.5" x2="1663.61" y2="1182" stroke="#000" stroke-width="2.4"/>
<line x1="1671.83" y1="1109.5" x2="1671.83" y2="1182" stroke="#000" stroke-width="2.4"/>
<line x1="1680.06" y1="1109.5" x2="1680.06" y2="1182" stroke="#000" stroke-width="2.4"/>
<line x1="1688.28" y1="1109.5" x2="1688.28" y2="1182" stroke="#000" stroke-width="2.4"/>
<line x1="1696.5" y1="1109.5" x2="1696.5" y2="1182" stroke="#000" stroke-width="2.4"/>
<path d="M1703.5 1440.7 L1614.2 1440.7 L1614.2 1509.3 L1703.5 1509.3" fill="none" stroke="#000" stroke-width="2.4" stroke-linejoin="miter"/>
<path d="M1703.5 1447 L1622.5 1447 L1622.5 1503 L1703.5 1503" fill="none" stroke="#000" stroke-width="2.2" stroke-linejoin="miter"/>
<line x1="1702.5" y1="1439.5" x2="1702.5" y2="1448.1" stroke="#000" stroke-width="2.2"/>
<line x1="1702.5" y1="1501.9" x2="1702.5" y2="1510.5" stroke="#000" stroke-width="2.2"/>
<line x1="1630.72" y1="1447" x2="1630.72" y2="1503" stroke="#000" stroke-width="2.4"/>
<line x1="1638.94" y1="1447" x2="1638.94" y2="1503" stroke="#000" stroke-width="2.4"/>
<line x1="1647.17" y1="1447" x2="1647.17" y2="1503" stroke="#000" stroke-width="2.4"/>
<line x1="1655.39" y1="1447" x2="1655.39" y2="1503" stroke="#000" stroke-width="2.4"/>
<line x1="1663.61" y1="1447" x2="1663.61" y2="1503" stroke="#000" stroke-width="2.4"/>
<line x1="1671.83" y1="1447" x2="1671.83" y2="1503" stroke="#000" stroke-width="2.4"/>
<line x1="1680.06" y1="1447" x2="1680.06" y2="1503" stroke="#000" stroke-width="2.4"/>
<line x1="1688.28" y1="1447" x2="1688.28" y2="1503" stroke="#000" stroke-width="2.4"/>
<line x1="1696.5" y1="1447" x2="1696.5" y2="1503" stroke="#000" stroke-width="2.4"/>
<rect x="1478.5" y="1106" width="51.5" height="50" fill="#fff" stroke="#000" stroke-width="2.2"/>
<text x="1505" y="1131.5" font-size="19.5" text-anchor="middle" dominant-baseline="central" transform="translate(1505 0) scale(0.9 1) translate(-1505 0)">EV</text>
<rect x="1478.5" y="1453.5" width="51.5" height="50" fill="#fff" stroke="#000" stroke-width="2.2"/>
<text x="1505" y="1479" font-size="19.5" text-anchor="middle" dominant-baseline="central" transform="translate(1505 0) scale(0.9 1) translate(-1505 0)">EV</text>
<text x="1870.5" y="1519.5" font-size="19" text-anchor="middle" dominant-baseline="central" transform="translate(1870.5 0) scale(0.9 1) translate(-1870.5 0)">NEWDAY’ S</text>
<text x="2202.22" y="1196.22" font-size="25" fill="#000" textLength="48.6" lengthAdjust="spacingAndGlyphs">(03)</text>
<text x="2248.06" y="1195.23" font-size="24.5" fill="#000" textLength="121.2" lengthAdjust="spacingAndGlyphs">下りホーム</text>
<text x="2202.22" y="1456.22" font-size="25" fill="#000" textLength="48.6" lengthAdjust="spacingAndGlyphs">(02)</text>
<text x="2248.53" y="1455.84" font-size="24.5" fill="#000" textLength="120.8" lengthAdjust="spacingAndGlyphs">上りホーム</text>
<text x="847.81" y="458.95" font-size="23" fill="#000" textLength="47.4" lengthAdjust="spacingAndGlyphs">(06)</text>
<text x="859.25" y="493.57" font-size="26.5" fill="#000">武</text>
<text x="859.25" y="525.07" font-size="26.5" fill="#000">蔵</text>
<text x="859.25" y="556.07" font-size="26.5" fill="#000">野</text>
<text x="859.25" y="587.57" font-size="26.5" fill="#000">線</text>
<text x="859.25" y="618.57" font-size="26.5" fill="#000">上</text>
<text x="859.25" y="650.07" font-size="26.5" fill="#000">り</text>
<text x="859.25" y="681.07" font-size="26.5" fill="#000">ホ</text>
<line x1="872.5" y1="691.37" x2="872.5" y2="713.63" stroke="#000" stroke-width="1.86"/>
<text x="859.25" y="743.57" font-size="26.5" fill="#000">ム</text>
<text x="1340.63" y="460.95" font-size="23" fill="#000" textLength="49.8" lengthAdjust="spacingAndGlyphs">(04)</text>
<text x="1353.25" y="493.57" font-size="26.5" fill="#000">武</text>
<text x="1353.25" y="525.07" font-size="26.5" fill="#000">蔵</text>
<text x="1353.25" y="556.07" font-size="26.5" fill="#000">野</text>
<text x="1353.25" y="587.57" font-size="26.5" fill="#000">線</text>
<text x="1353.25" y="618.57" font-size="26.5" fill="#000">下</text>
<text x="1353.25" y="650.07" font-size="26.5" fill="#000">り</text>
<text x="1353.25" y="681.07" font-size="26.5" fill="#000">ホ</text>
<line x1="1366.5" y1="691.37" x2="1366.5" y2="713.63" stroke="#000" stroke-width="1.86"/>
<text x="1353.25" y="743.57" font-size="26.5" fill="#000">ム</text>
<path d="M1562 273.8 L1562 1008.4 L2672 1008.4" fill="none" stroke="#000" stroke-width="2.7" stroke-linejoin="miter" stroke-dasharray="37.5 19.1" stroke-linecap="butt"/>
<rect x="1741.5" y="371.6" width="141" height="68.4" fill="#000"/>
<rect x="1751.7" y="380.6" width="9.9" height="19.2" fill="#fff"/>
<rect x="1765" y="380.6" width="9.9" height="19.2" fill="#fff"/>
<rect x="1778.3" y="380.6" width="9.9" height="19.2" fill="#fff"/>
<rect x="1791.6" y="380.6" width="9.9" height="19.2" fill="#fff"/>
<rect x="1804.9" y="380.6" width="9.9" height="19.2" fill="#fff"/>
<rect x="1818.2" y="380.6" width="9.9" height="19.2" fill="#fff"/>
<rect x="1831.5" y="380.6" width="9.9" height="19.2" fill="#fff"/>
<rect x="1844.8" y="380.6" width="9.9" height="19.2" fill="#fff"/>
<rect x="1858.1" y="380.6" width="9.9" height="19.2" fill="#fff"/>
<rect x="1871.4" y="380.6" width="9.9" height="19.2" fill="#fff"/>
<rect x="1751.7" y="413.3" width="9.9" height="19.5" fill="#fff"/>
<rect x="1765" y="413.3" width="9.9" height="19.5" fill="#fff"/>
<rect x="1778.3" y="413.3" width="9.9" height="19.5" fill="#fff"/>
<rect x="1791.6" y="413.3" width="9.9" height="19.5" fill="#fff"/>
<rect x="1804.9" y="413.3" width="9.9" height="19.5" fill="#fff"/>
<rect x="1818.2" y="413.3" width="9.9" height="19.5" fill="#fff"/>
<rect x="1831.5" y="413.3" width="9.9" height="19.5" fill="#fff"/>
<rect x="1844.8" y="413.3" width="9.9" height="19.5" fill="#fff"/>
<rect x="1858.1" y="413.3" width="9.9" height="19.5" fill="#fff"/>
<rect x="1871.4" y="413.3" width="9.9" height="19.5" fill="#fff"/>
<line x1="1749.5" y1="376.6" x2="1881.5" y2="376.6" stroke="#fff" stroke-width="2" stroke-dasharray="2.4 7.2"/>
<line x1="1749.5" y1="403" x2="1881.5" y2="403" stroke="#fff" stroke-width="2" stroke-dasharray="2.4 7.2"/>
<line x1="1749.5" y1="410.1" x2="1881.5" y2="410.1" stroke="#fff" stroke-width="2" stroke-dasharray="2.4 7.2"/>
<line x1="1749.5" y1="436.4" x2="1881.5" y2="436.4" stroke="#fff" stroke-width="2" stroke-dasharray="2.4 7.2"/>
<line x1="1744.1" y1="375.6" x2="1744.1" y2="438" stroke="#fff" stroke-width="1.8" stroke-dasharray="2 3.2"/>
<line x1="1748.7" y1="375.6" x2="1748.7" y2="438" stroke="#fff" stroke-width="1.8" stroke-dasharray="2 3.2"/>
<rect x="1741.5" y="681.3" width="141" height="58.7" fill="#000"/>
<rect x="1751.7" y="688.4" width="9.9" height="16.1" fill="#fff"/>
<rect x="1765" y="688.4" width="9.9" height="16.1" fill="#fff"/>
<rect x="1778.3" y="688.4" width="9.9" height="16.1" fill="#fff"/>
<rect x="1791.6" y="688.4" width="9.9" height="16.1" fill="#fff"/>
<rect x="1804.9" y="688.4" width="9.9" height="16.1" fill="#fff"/>
<rect x="1818.2" y="688.4" width="9.9" height="16.1" fill="#fff"/>
<rect x="1831.5" y="688.4" width="9.9" height="16.1" fill="#fff"/>
<rect x="1844.8" y="688.4" width="9.9" height="16.1" fill="#fff"/>
<rect x="1858.1" y="688.4" width="9.9" height="16.1" fill="#fff"/>
<rect x="1871.4" y="688.4" width="9.9" height="16.1" fill="#fff"/>
<rect x="1751.7" y="716.5" width="9.9" height="16.3" fill="#fff"/>
<rect x="1765" y="716.5" width="9.9" height="16.3" fill="#fff"/>
<rect x="1778.3" y="716.5" width="9.9" height="16.3" fill="#fff"/>
<rect x="1791.6" y="716.5" width="9.9" height="16.3" fill="#fff"/>
<rect x="1804.9" y="716.5" width="9.9" height="16.3" fill="#fff"/>
<rect x="1818.2" y="716.5" width="9.9" height="16.3" fill="#fff"/>
<rect x="1831.5" y="716.5" width="9.9" height="16.3" fill="#fff"/>
<rect x="1844.8" y="716.5" width="9.9" height="16.3" fill="#fff"/>
<rect x="1858.1" y="716.5" width="9.9" height="16.3" fill="#fff"/>
<rect x="1871.4" y="716.5" width="9.9" height="16.3" fill="#fff"/>
<line x1="1749.5" y1="685.35" x2="1881.5" y2="685.35" stroke="#fff" stroke-width="2" stroke-dasharray="2.4 7.2"/>
<line x1="1749.5" y1="707.7" x2="1881.5" y2="707.7" stroke="#fff" stroke-width="2" stroke-dasharray="2.4 7.2"/>
<line x1="1749.5" y1="713.3" x2="1881.5" y2="713.3" stroke="#fff" stroke-width="2" stroke-dasharray="2.4 7.2"/>
<line x1="1749.5" y1="736.4" x2="1881.5" y2="736.4" stroke="#fff" stroke-width="2" stroke-dasharray="2.4 7.2"/>
<line x1="1744.1" y1="685.3" x2="1744.1" y2="738" stroke="#fff" stroke-width="1.8" stroke-dasharray="2 3.2"/>
<line x1="1748.7" y1="685.3" x2="1748.7" y2="738" stroke="#fff" stroke-width="1.8" stroke-dasharray="2 3.2"/>
<line x1="1793" y1="440" x2="1793" y2="681.3" stroke="#000" stroke-width="2.5"/>
<line x1="1808.8" y1="440" x2="1808.8" y2="681.3" stroke="#000" stroke-width="2.5"/>
<line x1="1825.6" y1="440" x2="1825.6" y2="681.3" stroke="#000" stroke-width="2.5"/>
<line x1="1842.4" y1="440" x2="1842.4" y2="681.3" stroke="#000" stroke-width="2.5"/>
<line x1="1857.6" y1="440" x2="1857.6" y2="681.3" stroke="#000" stroke-width="2.5"/>
<line x1="1881.3" y1="371" x2="1881.3" y2="897" stroke="#000" stroke-width="2.5"/>
<path d="M1882 372.6 L2129.5 372.6 L2129.5 433.8 L2346.5 433.8 L2346.5 266 L2299.8 266" fill="none" stroke="#000" stroke-width="2.5" stroke-linejoin="miter"/>
<line x1="2040" y1="374.8" x2="2129.5" y2="374.8" stroke="#000" stroke-width="2.1"/>
<line x1="2040" y1="379.4" x2="2129.5" y2="379.4" stroke="#000" stroke-width="2.1"/>
<line x1="2040" y1="429" x2="2129.5" y2="429" stroke="#000" stroke-width="2.1"/>
<line x1="2040" y1="433.6" x2="2129.5" y2="433.6" stroke="#000" stroke-width="2.1"/>
<line x1="2041" y1="373.8" x2="2041" y2="380.4" stroke="#000" stroke-width="2"/>
<line x1="2041" y1="428" x2="2041" y2="434.6" stroke="#000" stroke-width="2"/>
<line x1="2048.8" y1="379.4" x2="2048.8" y2="429" stroke="#000" stroke-width="2.4"/>
<line x1="2056.4" y1="379.4" x2="2056.4" y2="429" stroke="#000" stroke-width="2.4"/>
<line x1="2064.3" y1="379.4" x2="2064.3" y2="429" stroke="#000" stroke-width="2.4"/>
<line x1="2072.3" y1="379.4" x2="2072.3" y2="429" stroke="#000" stroke-width="2.4"/>
<line x1="2080" y1="379.4" x2="2080" y2="429" stroke="#000" stroke-width="2.4"/>
<line x1="2087.4" y1="379.4" x2="2087.4" y2="429" stroke="#000" stroke-width="2.4"/>
<rect x="2088.2" y="381.4" width="32.2" height="46.6" fill="#fff" stroke="#000" stroke-width="1.6"/>
<rect x="2091.1" y="384.3" width="26.4" height="40.8" fill="#fff" stroke="#525252" stroke-width="3"/>
<text x="2104.3" y="404.7" font-size="19" text-anchor="middle" dominant-baseline="central" transform="rotate(90 2104.3 404.7)">143</text>
<rect x="2279.2" y="444.4" width="36.1" height="17.4" fill="#fff" stroke="#000" stroke-width="2.5"/>
<rect x="2279.2" y="479.2" width="36.1" height="17.4" fill="#fff" stroke="#000" stroke-width="2.5"/>
<rect x="2279.2" y="514.6" width="36.1" height="17.4" fill="#fff" stroke="#000" stroke-width="2.5"/>
<rect x="2279.2" y="549.4" width="36.1" height="17.4" fill="#fff" stroke="#000" stroke-width="2.5"/>
<line x1="2297" y1="568" x2="2297" y2="602.5" stroke="#000" stroke-width="2.5"/>
<path d="M2078.8 674 L2078.8 638.8 L2235.6 638.8 L2235.6 602.5 L2313.5 602.5 L2313.5 651.2 L2356.3 651.2 L2356.3 968.5" fill="none" stroke="#000" stroke-width="2.5" stroke-linejoin="miter"/>
<rect x="2163.8" y="638.8" width="57.5" height="25.7" fill="#fff" stroke="#000" stroke-width="2.5"/>
<text x="2177.14" y="655.65" font-size="10.3" fill="#000" textLength="30.9" lengthAdjust="spacingAndGlyphs">精算機</text>
<rect x="1952.2" y="671.3" width="50.8" height="49.3" fill="#fff" stroke="#000" stroke-width="2.2"/>
<text x="1978" y="696.6" font-size="19.5" text-anchor="middle" dominant-baseline="central" transform="translate(1978 0) scale(0.9 1) translate(-1978 0)">EV</text>
<line x1="2040" y1="674.8" x2="2121.5" y2="674.8" stroke="#000" stroke-width="2.1"/>
<line x1="2040" y1="679.4" x2="2121.5" y2="679.4" stroke="#000" stroke-width="2.1"/>
<line x1="2040" y1="724" x2="2121.5" y2="724" stroke="#000" stroke-width="2.1"/>
<line x1="2040" y1="728.6" x2="2121.5" y2="728.6" stroke="#000" stroke-width="2.1"/>
<line x1="2041" y1="673.8" x2="2041" y2="680.4" stroke="#000" stroke-width="2"/>
<line x1="2041" y1="723" x2="2041" y2="729.6" stroke="#000" stroke-width="2"/>
<line x1="2047.6" y1="679.4" x2="2047.6" y2="724" stroke="#000" stroke-width="2.4"/>
<line x1="2055.2" y1="679.4" x2="2055.2" y2="724" stroke="#000" stroke-width="2.4"/>
<line x1="2063.1" y1="679.4" x2="2063.1" y2="724" stroke="#000" stroke-width="2.4"/>
<line x1="2071.2" y1="679.4" x2="2071.2" y2="724" stroke="#000" stroke-width="2.4"/>
<line x1="2078.8" y1="679.4" x2="2078.8" y2="724" stroke="#000" stroke-width="2.4"/>
<rect x="2086.6" y="679.4" width="33.8" height="44.2" fill="#fff" stroke="#000" stroke-width="1.6"/>
<rect x="2089.5" y="682.3" width="28" height="38.4" fill="#fff" stroke="#525252" stroke-width="3"/>
<text x="2103.5" y="701.5" font-size="19" text-anchor="middle" dominant-baseline="central" transform="rotate(90 2103.5 701.5)">144</text>
<path d="M2050 730 L2181.3 730 L2181.3 895.6 L1950.8 895.6" fill="none" stroke="#000" stroke-width="2.5" stroke-linejoin="miter"/>
<path d="M1950.8 896.8 L1950.8 763.8 L1960 748.8 L2004.5 748.8 L2004.5 895.6" fill="none" stroke="#000" stroke-width="2.5" stroke-linejoin="miter"/>
<rect x="2061.3" y="730" width="50" height="48.8" fill="none" stroke="#000" stroke-width="2.5"/>
<path d="M2080 895.6 L2080 805.5 L2122 805.5" fill="none" stroke="#000" stroke-width="2.5" stroke-linejoin="miter"/>
<line x1="2181.3" y1="834.3" x2="2356.3" y2="834.3" stroke="#000" stroke-width="2.5"/>
<rect x="2305" y="718.3" width="51.3" height="115" fill="none" stroke="#000" stroke-width="2.5"/>
<line x1="2578.5" y1="313" x2="2578.5" y2="968.5" stroke="#000" stroke-width="2.5"/>
<line x1="2394.8" y1="314.3" x2="2578.5" y2="314.3" stroke="#000" stroke-width="2.4" stroke-dasharray="2.8 2.6"/>
<line x1="2401.3" y1="879.5" x2="2578.5" y2="879.5" stroke="#333" stroke-width="1.8"/>
<line x1="2401.3" y1="891" x2="2578.5" y2="891" stroke="#333" stroke-width="1.8"/>
<line x1="2401.3" y1="902.5" x2="2578.5" y2="902.5" stroke="#333" stroke-width="1.8"/>
<line x1="2401.3" y1="914.6" x2="2578.5" y2="914.6" stroke="#333" stroke-width="1.8"/>
<line x1="2401.3" y1="878.6" x2="2401.3" y2="931.3" stroke="#000" stroke-width="2"/>
<rect x="1743.4" y="840.6" width="137.9" height="54.6" fill="#fff" stroke="#000" stroke-width="2.4"/>
<path d="M1881.3 844.2 L1757 844.2 L1757 891.2 L1881.3 891.2" fill="none" stroke="#000" stroke-width="2.2" stroke-linejoin="miter"/>
<line x1="1769.63" y1="844.2" x2="1769.63" y2="891.2" stroke="#000" stroke-width="2.4"/>
<line x1="1782.26" y1="844.2" x2="1782.26" y2="891.2" stroke="#000" stroke-width="2.4"/>
<line x1="1794.89" y1="844.2" x2="1794.89" y2="891.2" stroke="#000" stroke-width="2.4"/>
<line x1="1807.52" y1="844.2" x2="1807.52" y2="891.2" stroke="#000" stroke-width="2.4"/>
<line x1="1820.15" y1="844.2" x2="1820.15" y2="891.2" stroke="#000" stroke-width="2.4"/>
<line x1="1832.78" y1="844.2" x2="1832.78" y2="891.2" stroke="#000" stroke-width="2.4"/>
<line x1="1845.41" y1="844.2" x2="1845.41" y2="891.2" stroke="#000" stroke-width="2.4"/>
<line x1="1858.04" y1="844.2" x2="1858.04" y2="891.2" stroke="#000" stroke-width="2.4"/>
<line x1="1870.67" y1="844.2" x2="1870.67" y2="891.2" stroke="#000" stroke-width="2.4"/>
<line x1="1881.3" y1="896" x2="1893" y2="896" stroke="#000" stroke-width="2.5"/>
<rect x="1892.3" y="895" width="58.3" height="68" fill="#000"/>
<rect x="1899.3" y="897.2" width="16.7" height="3.6" fill="#fff"/>
<rect x="1899.3" y="903.72" width="16.7" height="3.6" fill="#fff"/>
<rect x="1899.3" y="910.24" width="16.7" height="3.6" fill="#fff"/>
<rect x="1899.3" y="916.76" width="16.7" height="3.6" fill="#fff"/>
<rect x="1899.3" y="923.28" width="16.7" height="3.6" fill="#fff"/>
<rect x="1899.3" y="929.8" width="16.7" height="3.6" fill="#fff"/>
<rect x="1899.3" y="936.32" width="16.7" height="3.6" fill="#fff"/>
<rect x="1899.3" y="942.84" width="16.7" height="3.6" fill="#fff"/>
<rect x="1899.3" y="949.36" width="16.7" height="3.6" fill="#fff"/>
<rect x="1899.3" y="955.88" width="16.7" height="3.6" fill="#fff"/>
<rect x="1927.2" y="897.2" width="17" height="3.6" fill="#fff"/>
<rect x="1927.2" y="903.72" width="17" height="3.6" fill="#fff"/>
<rect x="1927.2" y="910.24" width="17" height="3.6" fill="#fff"/>
<rect x="1927.2" y="916.76" width="17" height="3.6" fill="#fff"/>
<rect x="1927.2" y="923.28" width="17" height="3.6" fill="#fff"/>
<rect x="1927.2" y="929.8" width="17" height="3.6" fill="#fff"/>
<rect x="1927.2" y="936.32" width="17" height="3.6" fill="#fff"/>
<rect x="1927.2" y="942.84" width="17" height="3.6" fill="#fff"/>
<rect x="1927.2" y="949.36" width="17" height="3.6" fill="#fff"/>
<rect x="1927.2" y="955.88" width="17" height="3.6" fill="#fff"/>
<line x1="1895.5" y1="900" x2="1895.5" y2="960" stroke="#fff" stroke-width="1.8" stroke-dasharray="2 3"/>
<line x1="1919" y1="900" x2="1919" y2="960" stroke="#fff" stroke-width="1.8" stroke-dasharray="2 3"/>
<line x1="1923.8" y1="900" x2="1923.8" y2="960" stroke="#fff" stroke-width="1.8" stroke-dasharray="2 3"/>
<line x1="1947.6" y1="900" x2="1947.6" y2="960" stroke="#fff" stroke-width="1.8" stroke-dasharray="2 3"/>
<text x="2040.22" y="567.8" font-size="24.5" fill="#000" textLength="48.6" lengthAdjust="spacingAndGlyphs">(01)</text>
<text x="2085.46" y="566.8" font-size="24" fill="#000" textLength="78" lengthAdjust="spacingAndGlyphs">本屋口</text>
<text x="1800.61" y="800.22" font-size="25.6" fill="#000" textLength="51.2" lengthAdjust="spacingAndGlyphs">店舗</text>
<text x="2255.91" y="414" font-size="25.7" fill="#000" textLength="51.4" lengthAdjust="spacingAndGlyphs">店舗</text>
<text x="2412.88" y="462.05" font-size="26" fill="#000" textLength="54.3" lengthAdjust="spacingAndGlyphs">南口</text>
<text x="2487.2" y="965.77" font-size="26" fill="#000" textLength="53.9" lengthAdjust="spacingAndGlyphs">北口</text>
<text x="2527.87" y="379.14" font-size="19.5" fill="#000" textLength="60" lengthAdjust="spacingAndGlyphs">（上）</text>
<text x="2485.37" y="503.36" font-size="19.5" fill="#000" textLength="60" lengthAdjust="spacingAndGlyphs">（下）</text>
<text x="2273.37" y="679.15" font-size="18.5" fill="#000" textLength="73.3" lengthAdjust="spacingAndGlyphs">みどりの</text>
<text x="2289.92" y="702.77" font-size="20.3" fill="#000" textLength="41.2" lengthAdjust="spacingAndGlyphs">窓口</text>
<text x="2317.8" y="753.26" font-size="27" fill="#000">券</text>
<text x="2317.8" y="784.66" font-size="27" fill="#000">売</text>
<text x="2317.8" y="815.66" font-size="27" fill="#000">機</text>
<text x="2362.75" y="896.53" font-size="18.5" fill="#000">ス</text>
<text x="2362.75" y="914.03" font-size="18.5" fill="#000">ロ</text>
<line x1="2372" y1="916.73" x2="2372" y2="932.27" stroke="#000" stroke-width="1.3"/>
<text x="2362.75" y="949.03" font-size="18.5" fill="#000">プ</text>
<text x="2017.44" y="814.58" font-size="25" fill="#000" textLength="50.1" lengthAdjust="spacingAndGlyphs">ＷＣ</text>
<text x="2004.52" y="858.44" font-size="27" fill="#000" textLength="79.1" lengthAdjust="spacingAndGlyphs">（男）</text>
<text x="2121.94" y="798.78" font-size="25" fill="#000" textLength="50.1" lengthAdjust="spacingAndGlyphs">ＷＣ</text>
<text x="2103.82" y="834.41" font-size="27" fill="#000" textLength="79.9" lengthAdjust="spacingAndGlyphs">（女）</text>
<text x="1967.5" y="804.98" font-size="21" fill="#000">店</text>
<text x="1967.5" y="828.28" font-size="21" fill="#000">舗</text>
<text x="2081.5" y="746.18" font-size="11" fill="#000">精</text>
<text x="2081.5" y="760.18" font-size="11" fill="#000">算</text>
<text x="2081.5" y="775.18" font-size="11" fill="#000">機</text>
<rect x="2480.6" y="317.9" width="45.1" height="25.5" fill="#fff" stroke="#525252" stroke-width="3.2"/>
<text x="2503.15" y="331.15" font-size="20" text-anchor="middle" dominant-baseline="central">145</text>
<rect x="2550.1" y="390.4" width="25.7" height="43.5" fill="#fff" stroke="#525252" stroke-width="3.2"/>
<text x="2562.95" y="412.15" font-size="19" text-anchor="middle" dominant-baseline="central" transform="rotate(90 2562.95 412.15)">146</text>
<rect x="2550.1" y="445.9" width="25.7" height="43.8" fill="#fff" stroke="#525252" stroke-width="3.2"/>
<text x="2562.95" y="467.8" font-size="19" text-anchor="middle" dominant-baseline="central" transform="rotate(90 2562.95 467.8)">147</text>
<rect x="2518.4" y="404.6" width="25.3" height="72.6" fill="#fff" stroke="#525252" stroke-width="3.2"/>
<text x="2531.05" y="440.9" font-size="19" text-anchor="middle" dominant-baseline="central" transform="rotate(90 2531.05 440.9)">399</text>
<rect x="2551.1" y="675.1" width="23.7" height="44.3" fill="#fff" stroke="#525252" stroke-width="3.2"/>
<text x="2562.95" y="697.25" font-size="19" text-anchor="middle" dominant-baseline="central" transform="rotate(90 2562.95 697.25)">141</text>
<rect x="2551.1" y="743.1" width="23.7" height="44.3" fill="#fff" stroke="#525252" stroke-width="3.2"/>
<text x="2562.95" y="765.25" font-size="19" text-anchor="middle" dominant-baseline="central" transform="rotate(90 2562.95 765.25)">142</text>
<line x1="1439" y1="1126" x2="1721.5" y2="432" stroke="#000" stroke-width="2.2" stroke-dasharray="3.3 3.1"/>
<line x1="1433" y1="1467" x2="1727.5" y2="717" stroke="#000" stroke-width="2.2" stroke-dasharray="3.3 3.1"/>
<path d="M1731 408 L1711.7 429 L1730 437 Z" fill="#000"/>
<circle cx="1731.5" cy="401.5" r="8.4" fill="url(#xh)" stroke="#000" stroke-width="2.6"/>
<circle cx="1731.7" cy="706.4" r="8.4" fill="url(#xh)" stroke="#000" stroke-width="2.6"/>
<circle cx="1438.8" cy="1126.3" r="8.4" fill="url(#xh)" stroke="#000" stroke-width="2.6"/>
<circle cx="1433" cy="1467.5" r="8.4" fill="url(#xh)" stroke="#000" stroke-width="2.6"/>
<path d="M1718.3 710.5 L1722.5 707.5" fill="none" stroke="#000" stroke-width="2" stroke-linejoin="miter"/>
<path d="M1737 715.5 L1739.8 719" fill="none" stroke="#000" stroke-width="2" stroke-linejoin="miter"/>
<path d="M1437 1461.5 L1443 1458.5" fill="none" stroke="#000" stroke-width="1.8" stroke-linejoin="miter"/>
<path d="M1932 737.5 L2026.3 709.3 L2022 694.3 L2057.5 712 L2038.8 747.5 L2033.8 733 L1938 761.3 Z" fill="#ff0000"/>
<ellipse cx="2104.4" cy="701.6" rx="25.8" ry="45.6" fill="none" stroke="#ff0000" stroke-width="11.6"/>
</svg>
</body></html>
